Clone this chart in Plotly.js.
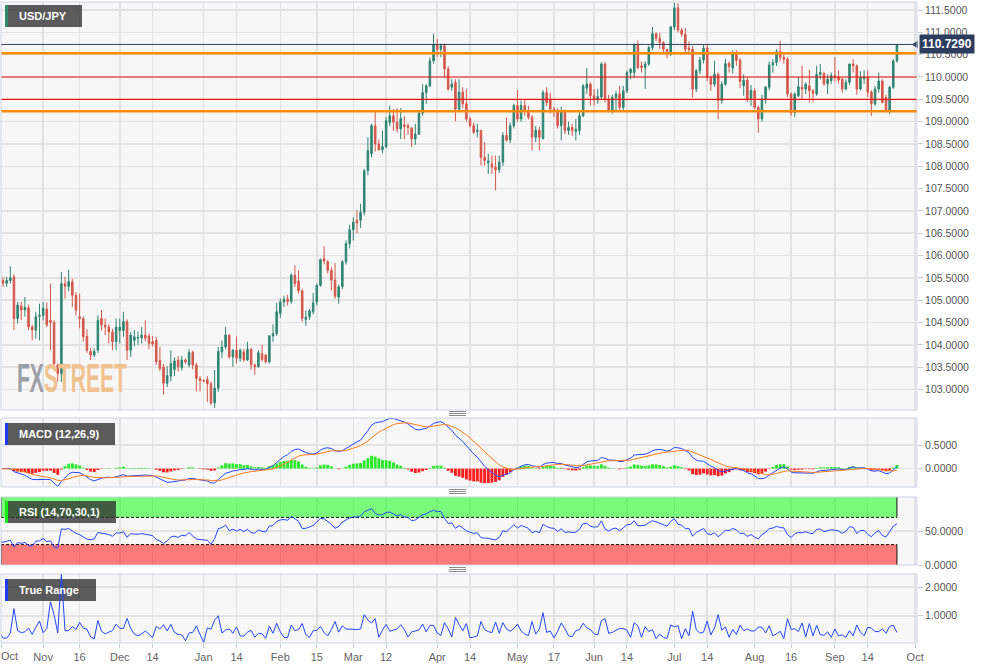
<!DOCTYPE html>
<html>
<head>
<meta charset="utf-8">
<script src="https://cdn.plot.ly/plotly-3.0.1.min.js"></script>
<style>
html,body{margin:0;padding:0;background:#ffffff;overflow:hidden;}
#chart{width:994px;height:669px;}
</style>
</head>
<body>
<div id="chart"></div>
<script>
// ---------------- DATA (USD/JPY daily) ----------------
const firstDay = '2020-10-15';

const open = [
 105.11,105.44,105.38,105.44,105.52,104.59,104.87,104.78,104.83,104.40,104.33,104.64,
 104.66,104.80,104.55,104.50,103.55,103.36,105.37,105.31,105.41,105.11,104.63,104.59,104.19,103.85,103.77,103.88,104.59,104.44,104.40,104.29,104.07,
 104.32,104.32,104.52,103.88,104.10,104.15,104.16,104.22,104.20,104.07,104.10,103.65,103.50,103.14,103.30,103.45,103.66,103.49,103.66,103.55,103.83,103.55,103.24,
 103.20,103.22,103.13,102.70,103.03,103.84,103.95,104.22,103.73,103.88,103.70,103.84,103.66,103.90,103.55,103.51,103.80,103.77,103.62,104.20,104.25,
 104.70,104.96,105.02,104.97,105.56,105.43,105.21,104.57,104.63,104.74,104.96,105.33,105.93,105.86,105.67,105.45,105.07,105.30,105.86,106.27,
 106.58,106.79,106.79,106.97,107.90,108.28,108.91,108.50,108.37,108.44,108.98,109.13,108.99,108.84,108.93,108.91,108.86,108.61,108.72,109.19,109.65,109.80,110.36,
 110.72,110.62,110.70,110.18,109.77,109.88,109.28,109.66,109.40,109.06,108.91,108.78,108.80,108.20,108.08,108.05,107.98,107.92,108.09,108.69,108.59,108.91,
 109.36,109.06,109.36,109.25,109.10,108.65,108.81,108.62,109.65,109.48,109.28,109.24,108.91,109.23,108.80,108.87,108.78,108.80,109.13,109.75,109.84,
 109.58,109.50,109.55,110.29,109.50,109.25,109.54,109.62,109.32,109.69,110.10,110.10,110.73,110.25,110.21,110.29,110.66,110.97,110.87,110.77,110.62,110.51,
 111.12,111.55,111.05,110.96,110.65,110.62,109.73,110.14,110.38,110.65,109.99,109.84,110.06,109.47,109.84,110.30,110.20,110.53,110.38,109.80,109.93,109.50,
 109.69,109.32,109.06,109.51,109.77,110.27,110.32,110.57,110.44,110.40,109.62,109.20,109.58,109.77,109.73,109.80,109.69,109.62,110.06,110.08,109.85,109.92,
 110.03,110.00,109.95,109.73,109.88,110.29,110.25,109.73,109.96,110.00,109.66,109.40,109.73,109.91,109.54,109.25,109.77,110.36
];
const high = [
 105.50,105.52,105.52,105.76,105.58,104.96,104.96,105.07,104.90,104.45,104.74,104.92,
 104.96,104.95,105.37,104.55,103.58,105.63,105.52,105.68,105.48,105.18,105.14,104.64,104.35,103.93,103.92,104.66,104.78,104.59,104.46,104.36,104.59,
 104.59,104.74,104.57,104.29,104.33,104.30,104.40,104.55,104.25,104.20,104.18,103.95,103.57,103.52,103.88,103.72,103.75,103.75,103.70,103.90,103.87,103.60,103.30,
 103.23,103.30,103.18,103.44,103.95,104.10,104.40,104.23,103.90,104.19,103.92,103.91,104.07,103.93,103.58,103.88,104.00,103.79,104.22,104.46,104.94,
 105.04,105.10,105.12,105.60,105.78,105.67,105.25,104.77,104.80,105.16,105.37,105.93,106.21,105.90,105.74,105.83,105.35,105.90,106.34,106.69,
 106.86,107.02,107.16,107.94,108.65,108.95,109.23,108.60,108.80,109.10,109.36,109.28,109.30,109.30,109.13,108.96,108.87,108.95,109.21,109.84,109.84,110.44,110.97,
 110.85,110.75,110.75,110.24,109.95,109.95,109.95,109.77,109.73,109.10,108.98,108.95,108.82,108.54,108.28,108.24,108.24,108.24,108.76,109.09,108.98,109.40,
 109.71,109.47,109.49,109.36,109.15,108.90,108.88,109.71,109.77,109.65,109.33,109.30,109.33,109.27,109.00,108.95,109.06,109.22,109.84,110.20,109.88,
 109.73,109.73,110.33,110.33,109.60,109.60,109.69,109.80,109.80,110.14,110.20,110.75,110.82,110.35,110.35,110.70,111.12,111.00,110.99,110.80,110.63,111.15,
 111.67,111.65,111.10,111.10,110.80,110.70,110.18,110.45,110.73,110.73,110.02,110.36,110.10,109.90,110.41,110.35,110.60,110.60,110.42,110.06,109.98,109.82,
 109.75,109.36,109.60,109.80,110.35,110.40,110.62,110.81,110.50,110.45,109.65,109.65,110.00,110.25,109.88,110.16,109.73,110.25,110.29,110.12,110.06,110.10,
 110.44,110.15,109.98,109.95,110.30,110.40,110.28,110.13,110.15,110.15,109.70,109.80,110.10,109.95,109.60,109.80,110.40,110.74
];
const low = [
 105.05,105.30,105.30,105.37,104.33,104.48,104.55,104.63,104.33,104.10,104.14,104.10,
 104.55,104.40,103.88,103.51,103.18,103.17,105.04,105.20,104.85,104.66,104.37,104.07,103.82,103.66,103.73,103.82,104.32,104.22,104.03,103.88,103.88,
 104.03,104.18,103.66,103.73,103.97,104.00,104.03,104.08,103.90,103.96,103.55,103.41,102.88,103.05,103.18,103.30,103.40,103.42,103.57,103.50,103.45,102.95,102.95,
 103.16,102.72,102.65,102.59,102.95,103.70,103.90,103.69,103.51,103.58,103.62,103.62,103.64,103.44,103.33,103.49,103.63,103.58,103.58,104.07,104.20,
 104.60,104.85,104.88,104.92,105.30,105.15,104.52,104.43,104.56,104.68,104.88,105.30,105.80,105.60,105.22,105.03,104.92,105.25,105.80,106.16,
 106.34,106.50,106.62,106.90,107.80,108.20,108.33,108.35,108.30,108.40,108.90,108.79,108.76,108.61,108.61,108.70,108.43,108.48,108.70,109.13,109.40,109.78,110.30,
 110.45,110.44,109.99,109.69,109.69,109.01,109.25,109.30,109.00,108.87,108.72,108.65,108.02,108.02,107.83,107.83,107.46,107.85,108.00,108.55,108.52,108.85,
 109.00,109.00,109.13,109.05,108.35,108.54,108.35,108.60,109.35,109.18,109.10,108.85,108.58,108.72,108.70,108.68,108.58,108.70,109.10,109.62,109.36,
 109.36,109.40,109.50,109.43,109.21,109.18,109.21,109.24,109.25,109.64,109.95,109.99,110.17,110.10,109.73,110.25,110.60,110.80,110.63,110.55,110.42,110.47,
 111.05,111.00,110.90,110.55,110.50,109.54,109.66,110.06,110.30,109.91,109.69,109.78,109.06,109.40,109.80,110.10,110.08,110.25,109.75,109.58,109.44,109.35,
 109.28,108.75,109.00,109.40,109.70,110.10,110.25,110.35,110.30,109.55,109.13,109.10,109.55,109.50,109.62,109.43,109.43,109.58,109.95,109.80,109.62,109.85,
 109.90,109.85,109.65,109.70,109.82,110.10,109.60,109.70,109.85,109.55,109.13,109.35,109.65,109.41,109.21,109.17,109.73,110.32
];
const close = [
 105.44,105.38,105.44,105.50,104.59,104.89,104.78,104.84,104.40,104.33,104.63,104.66,
 104.82,104.45,104.50,103.58,103.36,105.37,105.31,105.42,105.11,104.78,104.59,104.18,103.88,103.77,103.85,104.55,104.45,104.40,104.29,104.07,104.40,
 104.40,104.52,103.88,104.22,104.18,104.16,104.22,104.15,104.03,104.02,103.62,103.47,103.14,103.31,103.58,103.64,103.51,103.66,103.62,103.83,103.55,103.25,103.20,
 103.19,103.13,102.70,103.03,103.85,103.95,104.22,103.73,103.88,103.70,103.88,103.66,103.90,103.55,103.51,103.82,103.67,103.62,104.20,104.25,104.74,
 104.96,105.02,104.97,105.56,105.37,105.21,104.59,104.62,104.76,104.94,105.33,105.91,105.88,105.67,105.45,105.09,105.30,105.86,106.27,106.58,
 106.75,106.73,106.97,107.90,108.35,108.91,108.50,108.37,108.44,109.02,109.13,108.99,108.84,109.07,108.89,108.87,108.61,108.72,109.19,109.65,109.80,110.36,110.72,
 110.62,110.70,110.18,109.73,109.84,109.28,109.66,109.40,109.06,108.91,108.76,108.81,108.20,108.13,108.12,107.98,107.92,108.09,108.69,108.59,108.91,109.36,
 109.06,109.36,109.25,109.10,108.65,108.81,108.65,109.65,109.43,109.28,109.24,108.91,109.23,108.80,108.87,108.80,108.83,109.13,109.80,109.84,109.58,
 109.50,109.56,110.29,109.50,109.25,109.54,109.62,109.32,109.69,110.10,110.17,110.73,110.21,110.21,110.29,110.66,110.97,110.87,110.77,110.62,110.51,111.12,
 111.55,111.05,110.96,110.62,110.62,109.73,110.14,110.38,110.65,109.99,109.84,110.06,109.47,109.84,110.30,110.24,110.53,110.37,109.90,109.93,109.50,109.70,
 109.32,109.06,109.51,109.77,110.27,110.32,110.57,110.44,110.40,109.62,109.20,109.62,109.78,109.73,109.84,109.69,109.63,110.06,110.10,109.85,109.95,110.03,
 109.99,109.93,109.73,109.88,110.29,110.25,109.73,109.99,110.00,109.66,109.40,109.73,109.91,109.43,109.25,109.77,110.36,110.73
];

const orangeLevels = [110.53, 109.23];
const redLevels = [110.0, 109.5];
const lastPrice = 110.729;
const lastPriceLabel = '110.7290';

const tickDates = ['2020-11-02','2020-11-16','2020-12-01','2020-12-14','2021-01-01','2021-01-14',
  '2021-02-01','2021-02-15','2021-03-01','2021-03-12','2021-04-01','2021-04-14','2021-05-03',
  '2021-05-17','2021-06-01','2021-06-14','2021-07-01','2021-07-14','2021-08-02','2021-08-16',
  '2021-09-01','2021-09-14','2021-10-01'];
const tickLabels = ['Nov','16','Dec','14','Jan','14','Feb','15','Mar','12','Apr','14','May',
  '17','Jun','14','Jul','14','Aug','16','Sep','14','Oct'];

const macdParams = [12, 26, 9];
const rsiParams = [14, 70, 30];

// ---------------- derived ----------------
const DAY=86400000;
function tradingDays(start, n){
  const out=[]; let t=Date.parse(start+'T00:00:00Z');
  while(out.length<n){ const d=new Date(t); const w=d.getUTCDay();
    if(w!==0&&w!==6) out.push(d.toISOString().slice(0,10)); t+=DAY; }
  return out;
}
const dates = tradingDays(firstDay, close.length);
const calDays = tradingDays(firstDay, close.length + 12);

function ema(arr,n){ const k=2/(n+1); const o=[arr[0]]; for(let i=1;i<arr.length;i++) o.push(arr[i]*k+o[i-1]*(1-k)); return o; }
const e1=ema(close,macdParams[0]), e2=ema(close,macdParams[1]);
const macd=close.map((_,i)=>e1[i]-e2[i]);
const signal=ema(macd,macdParams[2]);
const hist=macd.map((v,i)=>v-signal[i]);

const N=rsiParams[0];
const ch=close.map((c,i)=>i?c-close[i-1]:0);
let ag=0,al=0; for(let i=1;i<=N;i++){ag+=Math.max(ch[i],0);al+=Math.max(-ch[i],0);} ag/=N; al/=N;
const rsi=[];
for(let i=0;i<close.length;i++){ if(i>0){ag=(ag*(N-1)+Math.max(ch[i],0))/N; al=(al*(N-1)+Math.max(-ch[i],0))/N;} rsi.push(100-100/(1+ag/al)); }

const tr=high.map((h,i)=> i?Math.max(h-low[i],Math.abs(h-close[i-1]),Math.abs(low[i]-close[i-1])):h-low[i]);

// ---------------- layout helpers ----------------
const W=994,H=669,L=1,R=77,T=2,B=26;
const PW=W-L-R, PH=H-T-B;
const px=x=>(x-L)/PW;
const py=y=>(H-B-y)/PH;
const panes={main:[2,410],macd:[418,487],rsi:[497,565],tr:[574,643]};
const dom=k=>[py(panes[k][1]),py(panes[k][0])];

// x range in trading-day units (index into calDays + fraction of a day)
const fStart=0.45, fEnd=251.5;
function fToDate(f){ const k=Math.floor(f); const t=Date.parse(calDays[k]+'T00:00:00Z')+(f-k)*DAY;
  return new Date(t).toISOString().slice(0,19).replace('T',' '); }
const pxToDate=p=>fToDate(fStart+(p-L)/PW*(fEnd-fStart));
const xStart=fToDate(fStart), xEnd=fToDate(fEnd);

const GRID='#e3e3e3', TICKC='#c5cddb', BORDER='#cdd4e2';
const GREEN='#2e8571', RED='#d4574a', BLUE='#2347ff', ORANGE='#ff7b1c';

const pmin=Math.min(...low)-0.05, pmax=Math.max(...high)+0.01;
const mAll=macd.concat(signal,hist);
const mmin=Math.min(...mAll)-0.01, mmax=Math.max(...mAll)+0.01;
const tmin=Math.min(...tr)-0.02, tmax=Math.max(...tr);
const ranges={main:[pmin,pmax],macd:[mmin,mmax],rsi:[0,100],tr:[tmin,tmax]};
function pyToData(k,y){ const p=panes[k], r=ranges[k]; return r[0]+(r[1]-r[0])*(p[1]-y)/(p[1]-p[0]); }

const yBase={side:'right',anchor:'x',showgrid:true,gridcolor:GRID,gridwidth:1.5,zeroline:false,
  showline:false,ticks:'outside',ticklen:5,tickcolor:TICKC,tickformat:'.4f',
  tickfont:{size:10.5,color:'#555'},fixedrange:true};

const traces=[
  {type:'candlestick',x:dates,open:open,high:high,low:low,close:close,xaxis:'x',yaxis:'y',
   increasing:{line:{color:GREEN,width:1},fillcolor:GREEN},
   decreasing:{line:{color:RED,width:1},fillcolor:RED},whiskerwidth:0,hoverinfo:'skip'},
  {type:'bar',x:dates,y:hist,xaxis:'x',yaxis:'y2',width:0.8*DAY,
   marker:{color:hist.map(v=>v>=0?'#2de82d':'#ff1f1f'),line:{width:0}}},
  {type:'scatter',mode:'lines',x:dates,y:macd,xaxis:'x',yaxis:'y2',line:{color:BLUE,width:1}},
  {type:'scatter',mode:'lines',x:dates,y:signal,xaxis:'x',yaxis:'y2',line:{color:ORANGE,width:1}},
  {type:'scatter',mode:'lines',x:dates,y:rsi,xaxis:'x',yaxis:'y3',line:{color:BLUE,width:1}},
  {type:'scatter',mode:'lines',x:dates,y:tr,xaxis:'x',yaxis:'y4',line:{color:BLUE,width:1}}
];

const shapes=[];
const lastDate=dates[dates.length-1];
// RSI bands
shapes.push({type:'rect',xref:'x',yref:'y3',x0:xStart,x1:lastDate,y0:rsiParams[1],y1:100,fillcolor:'rgba(0,255,0,0.5)',line:{width:0},layer:'between'});
shapes.push({type:'rect',xref:'x',yref:'y3',x0:xStart,x1:lastDate,y0:0,y1:rsiParams[2],fillcolor:'rgba(255,0,0,0.5)',line:{width:0},layer:'between'});
[[rsiParams[1],100],[0,rsiParams[2]]].forEach(b=>{
  shapes.push({type:'line',xref:'x',yref:'y3',x0:xStart,x1:xStart,y0:b[0],y1:b[1],line:{color:'#111',width:1.5},layer:'between'});
  shapes.push({type:'line',xref:'x',yref:'y3',x0:lastDate,x1:lastDate,y0:b[0],y1:b[1],line:{color:'#111',width:1},layer:'between'});
});
[rsiParams[1],rsiParams[2]].forEach(v=>shapes.push({type:'line',xref:'x',yref:'y3',x0:xStart,x1:lastDate,y0:v,y1:v,line:{color:'#111',width:1,dash:'3px,2px'},layer:'between'}));

// label boxes (placed between grid and data)
const boxes=[
  {pane:'main',ya:'y',x0:5,x1:82,y0:5,y1:27,stripe:'#2e8b6e',text:'USD/JPY'},
  {pane:'macd',ya:'y2',x0:5,x1:115,y0:423,y1:445,stripe:'#1f3cff',text:'MACD (12,26,9)'},
  {pane:'rsi',ya:'y3',x0:5,x1:116,y0:501,y1:523,stripe:'#10ee10',text:'RSI (14,70,30,1)'},
  {pane:'tr',ya:'y4',x0:5,x1:96,y0:579,y1:601,stripe:'#1f3cff',text:'True Range'}
];
const annotations=[];
boxes.forEach(b=>{
  const ya=pyToData(b.pane,b.y1), yb=pyToData(b.pane,b.y0);
  shapes.push({type:'rect',xref:'x',yref:b.ya,x0:pxToDate(b.x0),x1:pxToDate(b.x1),y0:ya,y1:yb,fillcolor:'rgba(48,48,48,0.78)',line:{width:0},layer:'between'});
  shapes.push({type:'rect',xref:'x',yref:b.ya,x0:pxToDate(b.x0),x1:pxToDate(b.x0+3),y0:ya,y1:yb,fillcolor:b.stripe,line:{width:0},layer:'between'});
  annotations.push({xref:'paper',yref:'paper',x:px(b.x0+12),y:py((b.y0+b.y1)/2),xanchor:'left',yanchor:'middle',showarrow:false,
    text:'<b>'+b.text+'</b>',font:{size:11,color:'#ffffff',family:'Liberation Sans, Arial, sans-serif'}});
});

// horizontal levels
orangeLevels.forEach(v=>shapes.push({type:'line',xref:'paper',yref:'y',x0:0,x1:1,y0:v,y1:v,line:{color:'#ff8c00',width:2.5},layer:'above'}));
redLevels.forEach(v=>shapes.push({type:'line',xref:'paper',yref:'y',x0:0,x1:1,y0:v,y1:v,line:{color:'#ee1010',width:1.2},layer:'above'}));
shapes.push({type:'line',xref:'paper',yref:'y',x0:0,x1:1,y0:lastPrice,y1:lastPrice,line:{color:'#2e3f5f',width:1},layer:'above'});
shapes.push({type:'path',xref:'paper',yref:'y',path:`M ${px(912)},${lastPrice} L ${px(918)},${lastPrice+0.09} L ${px(918)},${lastPrice-0.09} Z`,fillcolor:'#2c3d5d',line:{width:0},layer:'above'});

// pane borders
Object.keys(panes).forEach(k=>{ const d=dom(k);
  shapes.push({type:'rect',xref:'paper',yref:'paper',x0:0,x1:1,y0:d[0],y1:d[1],line:{color:BORDER,width:1},fillcolor:'rgba(0,0,0,0)',layer:'above'}); });

// separator handles
[411.5,489.5,567.5].forEach(y0=>{ [0,2,4].forEach(o=>shapes.push({type:'line',xref:'paper',yref:'paper',
  x0:px(449),x1:px(466),y0:py(y0+o),y1:py(y0+o),line:{color:'#8a8a8a',width:1},layer:'above'})); });

annotations.push({xref:'paper',yref:'y',x:1,xshift:2,y:lastPrice,xanchor:'left',yanchor:'middle',showarrow:false,
  text:'<b>'+lastPriceLabel+'</b>',bgcolor:'#2c3d5d',borderpad:2,font:{size:12,color:'#ffffff'}});
annotations.push({xref:'paper',yref:'paper',x:px(9),y:py(656),xanchor:'center',yanchor:'middle',showarrow:false,
  text:'Oct',font:{size:11,color:'#666'}});
annotations.push({xref:'paper',yref:'paper',x:px(15),y:py(378),xanchor:'left',yanchor:'middle',showarrow:false,
  text:'<b><span style="color:#9d9fa7">FX</span><span style="color:#f1c28e">STREET</span></b>',
  font:{size:40,family:'Liberation Sans, Arial, sans-serif'}});

const layout={
  width:W,height:H,margin:{l:L,r:R,t:T,b:B,pad:0},
  paper_bgcolor:'#ffffff',plot_bgcolor:'#f7f7f7',showlegend:false,hovermode:false,dragmode:false,
  boxgap:0.4,
  font:{family:'Liberation Sans, Arial, sans-serif',size:11,color:'#666'},
  xaxis:{type:'date',anchor:'y4',range:[xStart,xEnd],rangebreaks:[{bounds:['sat','mon']}],
    tickmode:'array',tickvals:[xStart].concat(tickDates),ticktext:[''].concat(tickLabels),
    ticks:'outside',ticklen:4,tickcolor:TICKC,showgrid:true,gridcolor:GRID,gridwidth:1.5,
    zeroline:false,showline:false,rangeslider:{visible:false},tickfont:{size:11,color:'#666'},fixedrange:true},
  yaxis:Object.assign({},yBase,{domain:dom('main'),range:ranges.main,tickmode:'linear',tick0:103,dtick:0.5}),
  yaxis2:Object.assign({},yBase,{domain:dom('macd'),range:ranges.macd,tickmode:'array',tickvals:[0,0.5]}),
  yaxis3:Object.assign({},yBase,{domain:dom('rsi'),range:ranges.rsi,tickmode:'array',tickvals:[0,50]}),
  yaxis4:Object.assign({},yBase,{domain:dom('tr'),range:ranges.tr,tickmode:'array',tickvals:[1,2]}),
  shapes:shapes,annotations:annotations
};

Plotly.newPlot('chart',traces,layout,{displayModeBar:false,staticPlot:true}).then(gd=>{
  // condense the watermark text horizontally so it spans the same width as the logo
  document.querySelectorAll('text.annotation-text').forEach(el=>{
    if(el.textContent==='FXSTREET'){
      const bb=el.getBBox(); const s=110/bb.width;
      el.setAttribute('transform',`translate(${bb.x},0) scale(${s},1) translate(${-bb.x},0)`);
    }
  });
});
</script>
</body>
</html>
